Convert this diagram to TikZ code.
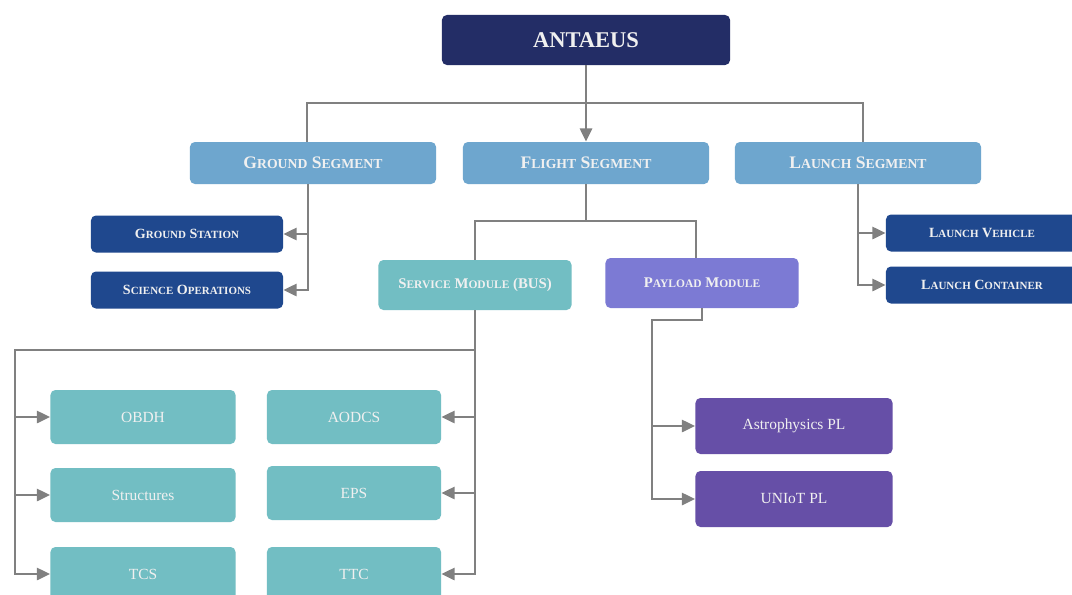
\documentclass[tikz,border=0pt]{standalone}
\usepackage{fontspec}
\setmainfont{Liberation Serif}
\usepackage{tikz}
\usetikzlibrary{arrows.meta}

\definecolor{navy}{RGB}{35,45,102}
\definecolor{segblue}{RGB}{110,166,206}
\definecolor{darkblue}{RGB}{31,72,142}
\definecolor{teal}{RGB}{114,190,195}
\definecolor{lilac}{RGB}{124,122,212}
\definecolor{plum}{RGB}{102,79,167}
\definecolor{wire}{RGB}{128,128,128}

% smaller capitals for the small-caps look
\makeatletter
\newlength\lclen
\newcommand\lc[1]{{\lclen=\f@size pt\lclen=0.78\lclen\fontsize{\strip@pt\lclen}{\strip@pt\lclen}\selectfont #1}}
\makeatother

\begin{document}
\begin{tikzpicture}[x=0.025cm,y=-0.025cm,
box/.style={rounded corners=3.5pt,text=white!94!black,inner sep=0pt,align=center},
root/.style={box,fill=navy,minimum width=7.2cm,minimum height=1.25cm,font=\fontsize{16}{18}\selectfont\bfseries},
segment/.style={box,fill=segblue,minimum width=6.15cm,minimum height=1.05cm,font=\fontsize{12.5}{14}\selectfont\bfseries},
leaf/.style={box,fill=darkblue,minimum width=4.8cm,minimum height=0.925cm,font=\fontsize{10}{12}\selectfont\bfseries},
module/.style={box,minimum width=4.825cm,minimum height=1.25cm,font=\fontsize{10.5}{12}\selectfont\bfseries},
subsys/.style={box,fill=teal,minimum height=1.35cm,font=\fontsize{11}{13}\selectfont},
payl/.style={box,fill=plum,minimum width=4.925cm,minimum height=1.4cm,font=\fontsize{11}{13}\selectfont},
wire/.style={draw=wire,line width=2.1pt},
arr/.style={wire,-{Triangle[length=9.5pt,width=8.5pt]}}]

\useasboundingbox[fill=white] (0,0) rectangle (1072,594);

% top
\node[root] (antaeus) at (586,40) {ANTAEUS};

% segments
\node[segment] (ground) at (313,163) {G\lc{ROUND} S\lc{EGMENT}};
\node[segment] (flight) at (586,163) {F\lc{LIGHT} S\lc{EGMENT}};
\node[segment] (launch) at (858,163) {L\lc{AUNCH} S\lc{EGMENT}};

\node[leaf] (gstation) at (187,234) {G\lc{ROUND} S\lc{TATION}};
\node[leaf] (sciops) at (187,290) {S\lc{CIENCE} O\lc{PERATIONS}};
\node[leaf] (lvehicle) at (982,233) {L\lc{AUNCH} V\lc{EHICLE}};
\node[leaf] (lcontainer) at (982,285) {L\lc{AUNCH} C\lc{ONTAINER}};

% flight segment modules
\node[module,fill=teal] (service) at (475,285) {S\lc{ERVICE} M\lc{ODULE} (BUS)};
\node[module,fill=lilac] (payload) at (702,283) {P\lc{AYLOAD} M\lc{ODULE}};

% bus subsystems
\node[subsys,minimum width=4.625cm] (obdh) at (143,417) {OBDH};
\node[subsys,minimum width=4.625cm] (struct) at (143,495) {Structures};
\node[subsys,minimum width=4.625cm] (tcs) at (143,574) {TCS};
\node[subsys,minimum width=4.35cm] (aodcs) at (354,417) {AODCS};
\node[subsys,minimum width=4.35cm] (eps) at (354,493) {EPS};
\node[subsys,minimum width=4.35cm] (ttc) at (354,574) {TTC};

% payloads
\node[payl] (astro) at (794,426) {Astrophysics PL};
\node[payl] (uniot) at (794,499) {UNIoT PL};

% connectors
\coordinate (topbar) at (586,103);
\coordinate (fbar) at (586,221);
\coordinate (busleft) at (15,350);
\coordinate (plbend) at (652,320);

\draw[arr] (antaeus) -- (flight);
\draw[wire] ([xshift=-0.15cm]ground.north) |- (topbar) -| ([xshift=0.125cm]launch.north);

\draw[arr] ([xshift=-0.125cm]ground.south) |- (gstation.east);
\draw[arr] ([xshift=-0.125cm]ground.south) |- (sciops.east);
\draw[arr] (launch.south) |- (lvehicle.west);
\draw[arr] (launch.south) |- (lcontainer.west);

\draw[wire] (flight.south) -- (fbar);
\draw[wire] (service.north) |- (fbar) -| ([xshift=-0.15cm]payload.north);

\draw[arr] (service.south) |- (busleft) |- (obdh.west);
\draw[arr] (busleft) |- (struct.west);
\draw[arr] (busleft) |- (tcs.west);
\draw[arr] (service.south) |- (aodcs.east);
\draw[arr] (service.south) |- (eps.east);
\draw[arr] (service.south) |- (ttc.east);

\draw[arr] (payload.south) |- (plbend) |- (astro.west);
\draw[arr] (plbend) |- (uniot.west);

\end{tikzpicture}
\end{document}
